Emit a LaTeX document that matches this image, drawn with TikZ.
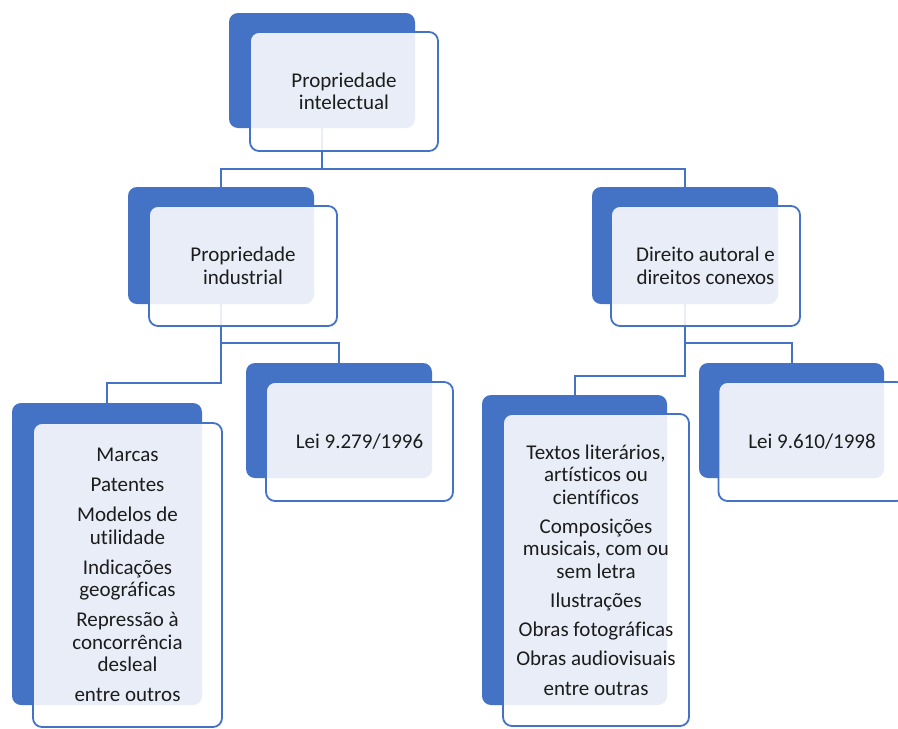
\documentclass[tikz,border=0pt]{standalone}
\usepackage{fontspec}
\setmainfont{Carlito}[Ligatures=NoCommon]
\usetikzlibrary{calc}
\definecolor{accent}{HTML}{4472C4}
\definecolor{ink}{HTML}{1C1C1C}
\tikzset{
  backbox/.style={fill=accent, rounded corners=9pt, inner sep=0pt},
  frontbox/.style={draw=accent, line width=1.8pt, fill=white, fill opacity=0.88,
    text opacity=1, rounded corners=9pt, align=center, text=ink, inner sep=0pt,
    font=\fontsize{21}{22.5}\selectfont},
  conn/.style={draw=accent, line width=2pt},
}
\begin{document}
\begin{tikzpicture}[x=1pt, y=-1pt]
\useasboundingbox (0,0) rectangle (898,729);
\clip (0,0) rectangle (898,729);
\fill[white] (0,0) rectangle (898,729);

% back (dark) panels
\node[backbox, minimum width=186pt, minimum height=115pt] (b1) at (322,70.5) {};
\node[backbox, minimum width=186pt, minimum height=117pt] (b2) at (221,245.5) {};
\node[backbox, minimum width=186pt, minimum height=117pt] (b3) at (685,245.5) {};
\node[backbox, minimum width=190pt, minimum height=302pt] (b4) at (107,554) {};
\node[backbox, minimum width=186pt, minimum height=115pt] (b5) at (339,420.5) {};
\node[backbox, minimum width=185pt, minimum height=310pt] (b6) at (574.5,550) {};
\node[backbox, minimum width=185pt, minimum height=115pt] (b7) at (791.5,420.5) {};

% connectors
\coordinate (j1) at ($(b1.south)+(0,41)$);
\draw[conn] (b1.south) -- (j1) -| (b2.north);
\draw[conn] (j1) -| (b3.north);

\coordinate (j2) at ($(b2.south)+(0,39)$);
\coordinate (j3) at ($(b2.south)+(0,79)$);
\draw[conn] (b2.south) -- (j3) -| (b4.north);
\draw[conn] (j2) -| (b5.north);

\coordinate (j4) at ($(b3.south)+(0,39)$);
\coordinate (j5) at ($(b3.south)+(0,72)$);
\draw[conn] (b3.south) -- (j5) -| (b6.north);
\draw[conn] (j4) -| (b7.north);

% front panels with text
\node[frontbox, minimum width=188pt, minimum height=119pt] (f1) at (344,91.5)
  {Propriedade\\intelectual};
\node[frontbox, minimum width=188pt, minimum height=120pt] (f2) at (243,266)
  {Propriedade\\industrial};
\node[frontbox, minimum width=189pt, minimum height=120pt] (f3) at (705.5,266)
  {Direito autoral e\\direitos conexos};
\node[frontbox, minimum width=189pt, minimum height=304pt] (f4) at (127.5,575)
  {Marcas\\[7.5pt]Patentes\\[7.5pt]Modelos de\\utilidade\\[7.5pt]Indicações\\geográficas\\[7.5pt]Repressão à\\concorrência\\desleal\\[7.5pt]entre outros};
\node[frontbox, minimum width=187pt, minimum height=119pt] (f5) at (359.5,441.5)
  {Lei 9.279/1996};
\node[frontbox, minimum width=186pt, minimum height=312pt] (f6) at (596,570)
  {Textos literários,\\artísticos ou\\científicos\\[6.5pt]Composições\\musicais, com ou\\sem letra\\[6.5pt]Ilustrações\\[6.5pt]Obras fotográficas\\[6.5pt]Obras audiovisuais\\[7.5pt]entre outras};
\node[frontbox, minimum width=187pt, minimum height=119pt] (f7) at (812,441.5)
  {Lei 9.610/1998};
\end{tikzpicture}
\end{document}
